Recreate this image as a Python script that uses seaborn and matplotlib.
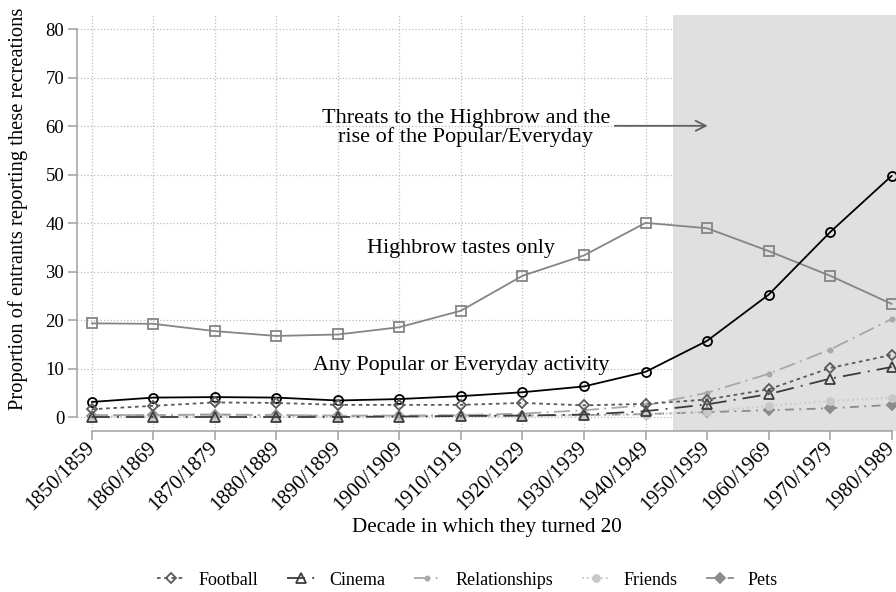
import numpy as np
import pandas as pd
import matplotlib
matplotlib.use("Agg")
import matplotlib.pyplot as plt
import matplotlib.transforms as mtransforms
import seaborn as sns

decades = ["1850/1859", "1860/1869", "1870/1879", "1880/1889", "1890/1899",
           "1900/1909", "1910/1919", "1920/1929", "1930/1939", "1940/1949",
           "1950/1959", "1960/1969", "1970/1979", "1980/1989"]

highbrow = [19.4, 19.3, 17.8, 16.8, 17.1, 18.6, 22.0, 29.2, 33.4, 40.1, 39.0, 34.3, 29.2, 23.4]
popular = [3.2, 4.1, 4.2, 4.1, 3.5, 3.8, 4.4, 5.2, 6.4, 9.4, 15.8, 25.3, 38.2, 49.8]
football = [1.7, 2.4, 3.1, 3.0, 2.6, 2.6, 2.6, 3.0, 2.5, 2.8, 3.7, 5.8, 10.2, 12.9]
cinema = [0.1, 0.1, 0.1, 0.1, 0.1, 0.2, 0.3, 0.4, 0.6, 1.3, 2.7, 4.8, 8.0, 10.4]
relationships = [0.5, 0.5, 0.6, 0.5, 0.4, 0.4, 0.5, 0.8, 1.5, 2.5, 5.1, 9.0, 14.0, 20.3]
friends = [0.2, 0.2, 0.2, 0.2, 0.2, 0.2, 0.3, 0.3, 0.4, 0.6, 1.2, 2.4, 3.4, 4.1]
pets = [0.4, 0.5, 0.6, 0.5, 0.3, 0.3, 0.4, 0.4, 0.5, 0.7, 1.1, 1.5, 1.9, 2.6]

sns.set_theme(style="white")
plt.rcParams["font.family"] = ["Liberation Serif", "DejaVu Serif"]
plt.rcParams["text.color"] = "black"
plt.rcParams["axes.labelcolor"] = "black"
plt.rcParams["xtick.color"] = "black"
plt.rcParams["ytick.color"] = "black"

x = np.arange(len(decades))
fig = plt.figure(figsize=(8.96, 5.92), dpi=100)
ax = fig.add_axes([0.0863, 0.272, 0.9137, 0.7027])

# shaded post-war period
ax.axvspan(9.44, 13.2, color="#e0e0e0", lw=0, zorder=1)

series = [
    # label, values, color, linestyle, marker, filled, in legend
    ("Highbrow", highbrow, "#858585", "-", "s", False, False),
    ("Any", popular, "black", "-", "o", False, False),
    ("Pets", pets, "#8c8c8c", (0, (5, 3, 1, 3)), "D", True, True),
    ("Friends", friends, "#c8c8c8", ":", "o", True, True),
    ("Relationships", relationships, "#a8a8a8", (0, (9, 3, 1, 3)), "o", True, True),
    ("Cinema", cinema, "#3c3c3c", (0, (10, 4, 1, 4)), "^", False, True),
    ("Football", football, "#5a5a5a", (0, (2, 2)), "D", False, True),
]

handles = {}
for name, vals, col, ls, mk, filled, leg in series:
    df = pd.DataFrame({"x": x, "y": vals})
    ms = 6.5
    if mk == "D":
        ms = 5.5
    if name == "Relationships":
        ms = 3
    if name == "Friends":
        ms = 5
    sns.lineplot(data=df, x="x", y="y", ax=ax, color=col, linestyle=ls, lw=1.3,
                 marker=mk, markersize=ms, markeredgewidth=1.3,
                 markerfacecolor=col if filled else "none",
                 markeredgecolor=col, zorder=3, label=name if leg else None,
                 legend=False)
    if leg:
        handles[name] = ax.lines[-1]

ax.set_xlim(-0.234, 13.07)
ax.set_ylim(-2.78, 82.94)
ax.set_xticks(x)
ax.set_xticklabels(decades, rotation=45, ha="right", va="center",
                   rotation_mode="anchor", fontsize=15)
# nudge rotated labels a little left so they end under the tick
shift = mtransforms.ScaledTranslation(-3 / 100, 0, fig.dpi_scale_trans)
for lab in ax.get_xticklabels():
    lab.set_transform(lab.get_transform() + shift)
ax.set_yticks(range(0, 81, 10))
ax.tick_params(axis="y", labelsize=13.5)
ax.tick_params(axis="both", direction="out", length=6.5, width=1.1, color="#a0a0a0",
               left=True, bottom=True)
ax.tick_params(axis="x", pad=3.5)
ax.tick_params(axis="y", pad=3)

ax.grid(True, linestyle=":", color="#bdbdbd", lw=0.9)
ax.set_axisbelow(True)

for s in ["top", "right"]:
    ax.spines[s].set_visible(False)
for s in ["left", "bottom"]:
    ax.spines[s].set_color("#a0a0a0")
    ax.spines[s].set_linewidth(1.1)
ax.spines["left"].set_bounds(0, 80)
ax.spines["bottom"].set_bounds(0, 13)

ax.set_xlabel("Decade in which they turned 20", fontsize=15.2, va="center")
ax.xaxis.set_label_coords(0.5, -0.231)
ax.set_ylabel("Proportion of entrants reporting these recreations", fontsize=14.8, va="center")
ax.yaxis.set_label_coords(-0.0724, 0.535)

ax.text(6.08, 59.6, "Threats to the Highbrow and the\nrise of the Popular/Everyday",
        ha="center", va="center", fontsize=16, linespacing=0.95, zorder=4)
ax.annotate("", xy=(10.01, 60.1), xytext=(8.50, 60.1),
            arrowprops=dict(arrowstyle="->", color="#606060", lw=1.3, mutation_scale=18,
                            shrinkA=0, shrinkB=0), zorder=4)
ax.text(6.0, 34.9, "Highbrow tastes only", ha="center", va="center", fontsize=15.8, zorder=4)
ax.text(6.0, 10.8, "Any Popular or Everyday activity", ha="center", va="center",
        fontsize=15.8, zorder=4)

order = ["Football", "Cinema", "Relationships", "Friends", "Pets"]
fig.legend([handles[k] for k in order], order, loc="center", bbox_to_anchor=(0.522, 0.02),
           ncol=5, frameon=False, fontsize=13, handlelength=1.5, columnspacing=1.6,
           handletextpad=0.8)

fig.savefig("out.png", dpi=100)
